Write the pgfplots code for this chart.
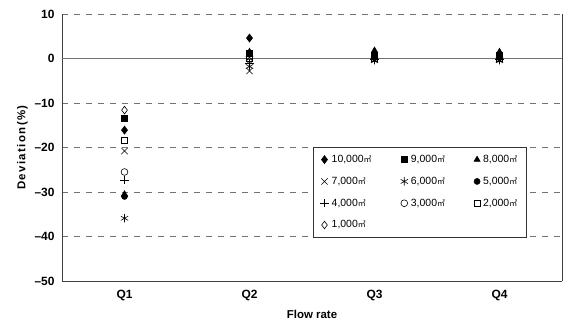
\documentclass[border=0pt]{standalone}
\usepackage{fontspec}
\setmainfont{Liberation Sans}
\newfontfamily\cjk{Noto Sans CJK KR}
\usepackage{pgfplots}
\pgfplotsset{compat=1.18}
\newcommand{\mq}{{\cjk\fontsize{8}{8}\selectfont ㎥}}
\begin{document}
\begin{tikzpicture}
\begin{axis}[
  scale only axis, width=500bp, height=267bp,
  at={(0,0)}, anchor=south west,
  xmin=0.5, xmax=4.5, ymin=-50, ymax=10,
  xtick={1,2,3,4}, xticklabels={Q1,Q2,Q3,Q4},
  ytick={-50,-40,-30,-20,-10,0,10},
  yticklabels={–50,–40,–30,–20,–10,0,10},
  ticklabel style={font=\fontsize{12}{14}\selectfont\bfseries},
  major tick length=0pt,
  xticklabel style={yshift=-6bp},
  yticklabel style={xshift=-4bp},
  axis x line*=bottom, axis y line*=left,
  axis line style={draw=black!75, line width=1pt},
  separate axis lines,
  ymajorgrids, grid style={dashed, black!55, line width=0.8pt, dash pattern=on 6bp off 6bp},
  extra y ticks={0}, extra y tick labels={},
  extra y tick style={grid style={solid, black!55, line width=0.8pt}},
  xlabel={\bfseries Flow rate},
  ylabel={\addfontfeatures{LetterSpace=12}\bfseries Deviation(\%)},
  xlabel style={font=\fontsize{11.5}{13}\selectfont, yshift=-2bp},
  ylabel style={font=\fontsize{11.5}{13}\selectfont, yshift=0bp},
  legend columns=3,
  legend style={at={(0.502,0.502)}, anchor=north west, draw=black!80, line width=0.6pt,
    font=\fontsize{10.5}{12}\selectfont, row sep=9bp, inner xsep=7bp, inner ysep=6bp,
    /tikz/every odd column/.append style={column sep=1bp},
    /tikz/every even column/.append style={column sep=27bp}},
  legend cell align=left,
  every axis plot/.append style={only marks, black, line width=0.6pt},
  clip=false,
]
\addplot[mark=diamond*, mark size=4bp] coordinates {(1,-16.1) (2,4.6) (3,1.2) (4,1.0)};
\addlegendentry{10,000\mq}
\addplot[mark=square*, mark size=3bp] coordinates {(1,-13.4) (2,1.2) (3,0.8) (4,0.7)};
\addlegendentry{9,000\mq}
\addplot[mark=triangle*, mark size=3.5bp] coordinates {(1,-30.5) (2,1.5) (3,1.8) (4,1.5)};
\addlegendentry{8,000\mq}
\addplot[mark=x, mark size=4.4bp] coordinates {(1,-20.8) (2,-2.8) (3,-0.3) (4,-0.3)};
\addlegendentry{7,000\mq}
\addplot[mark=asterisk, mark size=4.2bp] coordinates {(1,-35.9) (2,-1.8) (3,-0.4) (4,-0.4)};
\addlegendentry{6,000\mq}
\addplot[mark=*, mark size=3bp] coordinates {(1,-31.0) (2,1.0) (3,0.5) (4,0.5)};
\addlegendentry{5,000\mq}
\addplot[mark=+, mark size=4.2bp] coordinates {(1,-27.3) (2,-1.0) (3,-0.2) (4,-0.2)};
\addlegendentry{4,000\mq}
\addplot[mark=o, mark size=3.4bp] coordinates {(1,-25.5) (2,0.5) (3,0.3) (4,0.3)};
\addlegendentry{3,000\mq}
\addplot[mark=square, mark size=3bp] coordinates {(1,-18.3) (2,0.0) (3,0.1) (4,0.1)};
\addlegendentry{2,000\mq}
\addplot[mark=diamond, mark size=3.8bp] coordinates {(1,-11.6) (2,-0.5) (3,0.0) (4,0.0)};
\addlegendentry{1,000\mq}
\draw[black!75, line width=1pt] (rel axis cs:1,0) -- (rel axis cs:1,1);
\end{axis}
\pgfresetboundingbox
\path[use as bounding box] (-62bp,-44bp) rectangle (506bp,281bp);
\end{tikzpicture}
\end{document}
